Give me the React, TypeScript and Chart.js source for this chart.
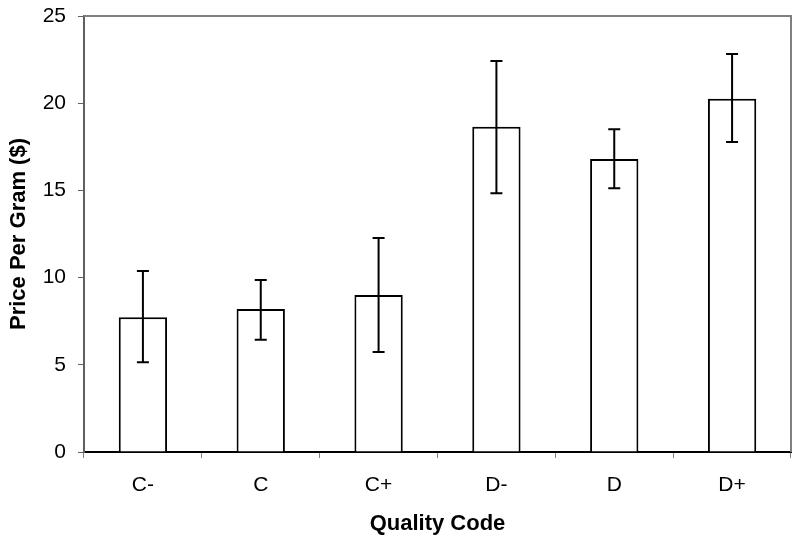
import React, { useEffect, useRef } from 'react';
import { Chart, registerables } from 'chart.js';

Chart.register(...registerables);

const categories = ['C-', 'C', 'C+', 'D-', 'D', 'D+'];
const meanPrice = [7.72, 8.2, 9.0, 18.65, 16.8, 20.26];
const errorUpper = [10.38, 9.86, 12.27, 22.42, 18.5, 22.82];
const errorLower = [5.14, 6.44, 5.73, 14.83, 15.12, 17.78];
const yTickValues = [0, 5, 10, 15, 20, 25];

const FONT = "'Liberation Sans', Arial, sans-serif";

const errorBarPlugin = {
  id: 'errorBars',
  afterDatasetsDraw(chart: any) {
    const ctx = chart.ctx;
    const meta = chart.getDatasetMeta(0);
    const yScale = chart.scales.y;
    ctx.save();
    ctx.strokeStyle = '#000';
    ctx.lineWidth = 2;
    meta.data.forEach((bar: any, i: number) => {
      const x = bar.x;
      const yHi = yScale.getPixelForValue(errorUpper[i]);
      const yLo = yScale.getPixelForValue(errorLower[i]);
      ctx.beginPath();
      ctx.moveTo(x, yHi);
      ctx.lineTo(x, yLo);
      ctx.moveTo(x - 6, yHi);
      ctx.lineTo(x + 6, yHi);
      ctx.moveTo(x - 6, yLo);
      ctx.lineTo(x + 6, yLo);
      ctx.stroke();
    });
    ctx.restore();
  },
};

const framePlugin = {
  id: 'frame',
  beforeDatasetsDraw(chart: any) {
    const { ctx, chartArea } = chart;
    ctx.save();
    ctx.strokeStyle = '#808080';
    ctx.lineWidth = 2;
    ctx.beginPath();
    ctx.moveTo(chartArea.left, chartArea.top);
    ctx.lineTo(chartArea.right, chartArea.top);
    ctx.lineTo(chartArea.right, chartArea.bottom);
    ctx.stroke();
    ctx.restore();
  },
};

export default function App() {
  const canvasRef = useRef<HTMLCanvasElement | null>(null);

  useEffect(() => {
    if (!canvasRef.current) return;
    const chart = new Chart(canvasRef.current, {
      type: 'bar',
      data: {
        labels: categories,
        datasets: [
          {
            data: meanPrice,
            backgroundColor: '#ffffff',
            borderColor: '#000000',
            borderWidth: 2,
            categoryPercentage: 1,
            barPercentage: 0.41,
          },
        ],
      },
      options: {
        responsive: false,
        animation: false,
        layout: { padding: { top: 16, right: 9, left: 0, bottom: 0 } },
        plugins: {
          legend: { display: false },
          tooltip: { enabled: false },
        },
        scales: {
          x: {
            grid: {
              display: true,
              drawOnChartArea: false,
              drawTicks: true,
              tickLength: 6,
              color: '#808080',
              offset: true,
            },
            border: { display: true, color: '#000000', width: 2 },
            ticks: {
              color: '#000',
              font: { family: FONT, size: 21 },
              padding: 15,
              maxRotation: 0,
            },
            title: {
              display: true,
              text: 'Quality Code',
              color: '#000',
              font: { family: FONT, size: 22, weight: 'bold' },
              padding: { top: 0, bottom: 4 },
            },
            afterFit(scale: any) {
              scale.height = 89;
              scale.paddingLeft = 0;
              scale.paddingRight = 0;
            },
          },
          y: {
            min: 0,
            max: 25,
            afterBuildTicks(scale: any) {
              scale.ticks = yTickValues.map((v) => ({ value: v }));
            },
            grid: {
              display: true,
              drawOnChartArea: false,
              drawTicks: true,
              tickLength: 6,
              color: '#606060',
            },
            border: { display: true, color: '#606060', width: 2 },
            ticks: {
              color: '#000',
              font: { family: FONT, size: 21 },
              padding: 12,
            },
            title: {
              display: true,
              text: 'Price Per Gram ($)',
              color: '#000',
              font: { family: FONT, size: 22, weight: 'bold' },
              padding: { top: 6, bottom: 0 },
            },
            afterFit(scale: any) {
              scale.width = 84;
              scale.paddingTop = 0;
              scale.paddingBottom = 0;
            },
          },
        },
      },
      plugins: [framePlugin, errorBarPlugin],
    });
    return () => chart.destroy();
  }, []);

  return (
    <div style={{ position: 'absolute', left: 0, top: 0, width: 800, height: 541, background: '#fff' }}>
      <canvas ref={canvasRef} width={800} height={541} />
    </div>
  );
}
